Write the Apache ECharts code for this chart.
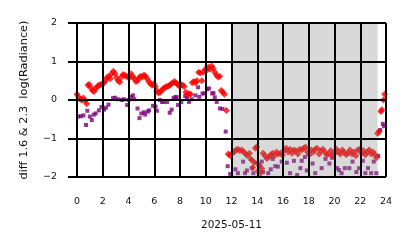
<!DOCTYPE html>
<html><head><meta charset="utf-8">
<script src="https://cdn.jsdelivr.net/npm/echarts@6/dist/echarts.min.js"></script>
<style>html,body{margin:0;padding:0;background:#fff}#c{width:414px;height:248px}</style>
</head><body><div id="c"></div>
<script>
const xTicks = [0,2,4,6,8,10,12,14,16,18,20,22,24];
const yTicks = [-2,-1,0,1,2];
const xName = '2025-05-11';
const yName = 'diff 1.6 & 2.3  log(Radiance)';
const shade = [12, 23.35];

const redHours = [0.0,0.12,0.25,0.38,0.5,0.62,0.75,0.85,0.95,1.08,1.2,1.32,1.45,1.58,1.7,1.82,1.95,2.08,2.2,2.32,2.45,2.58,2.7,2.82,2.95,3.08,3.2,3.32,3.45,3.58,3.7,3.82,3.95,4.08,4.2,4.32,4.45,4.58,4.7,4.82,4.95,5.08,5.2,5.32,5.45,5.58,5.7,5.82,5.95,6.08,6.2,6.32,6.45,6.58,6.7,6.82,6.95,7.08,7.2,7.32,7.45,7.58,7.7,7.82,7.95,8.08,8.2,8.32,8.45,8.58,8.7,8.82,8.95,9.08,9.2,9.32,9.45,9.58,9.7,9.82,9.95,10.08,10.2,10.32,10.45,10.58,10.7,10.82,10.95,11.08,11.2,11.32,11.45,11.6,
 11.75,11.9,12.05,12.2,12.35,12.5,12.65,12.8,12.95,13.1,13.25,13.4,13.55,13.65,13.75,13.85,13.95,14.05,14.15,14.25,14.35,14.45,14.6,14.75,14.9,15.05,15.2,15.35,15.5,15.65,15.8,15.95,16.1,16.25,16.4,16.55,16.7,16.85,17.0,17.15,17.3,17.45,17.6,17.75,17.9,18.05,18.2,18.35,18.5,18.65,18.8,18.95,19.1,19.25,19.4,19.55,19.7,19.85,20.0,20.15,20.3,20.45,20.6,20.75,20.9,21.05,21.2,21.35,21.5,21.65,21.8,21.95,22.1,22.25,22.4,22.55,22.7,22.85,23.0,23.15,23.25,23.35,23.45,23.6,23.68,23.8,23.9];
const redValues = [0.15,0.08,0.02,0.0,0.05,-0.02,-0.1,0.38,0.4,0.32,0.25,0.22,0.3,0.35,0.38,0.4,0.4,0.45,0.5,0.58,0.62,0.55,0.68,0.75,0.68,0.58,0.5,0.47,0.6,0.66,0.64,0.62,0.6,0.58,0.68,0.62,0.55,0.48,0.5,0.58,0.62,0.6,0.65,0.62,0.55,0.48,0.42,0.38,0.42,0.35,0.25,0.18,0.2,0.25,0.3,0.32,0.35,0.36,0.38,0.42,0.45,0.48,0.44,0.4,0.36,0.4,0.38,0.35,0.2,0.15,0.16,0.15,0.45,0.48,0.45,0.5,0.72,0.7,0.5,0.72,0.8,0.78,0.85,0.8,0.88,0.82,0.72,0.65,0.6,0.62,0.25,0.2,0.15,-0.27,
 -1.4,-1.45,-1.38,-1.35,-1.3,-1.28,-1.32,-1.3,-1.35,-1.4,-1.45,-1.38,-1.55,-1.75,-1.62,-1.25,-1.22,-1.85,-1.7,-1.9,-1.78,-1.38,-1.45,-1.52,-1.48,-1.42,-1.38,-1.45,-1.35,-1.4,-1.38,-1.43,-1.3,-1.25,-1.35,-1.28,-1.38,-1.3,-1.32,-1.4,-1.28,-1.3,-1.25,-1.22,-1.35,-1.42,-1.3,-1.35,-1.28,-1.25,-1.4,-1.32,-1.28,-1.35,-1.42,-1.4,-1.32,-1.45,-1.38,-1.28,-1.35,-1.4,-1.3,-1.35,-1.42,-1.38,-1.3,-1.4,-1.35,-1.45,-1.3,-1.28,-1.38,-1.32,-1.42,-1.35,-1.3,-1.4,-1.35,-1.42,-1.5,-0.87,-0.82,-0.3,-0.25,0.0,0.15];

const purpleHours = [0.1,0.3,0.5,0.7,0.8,1.0,1.15,1.3,1.45,1.7,1.9,2.1,2.25,2.45,2.8,2.95,3.2,3.5,3.65,3.9,4.0,4.2,4.35,4.45,4.7,4.85,5.0,5.2,5.3,5.5,5.6,5.9,6.1,6.2,6.45,6.6,6.75,7.0,7.2,7.35,7.5,7.65,7.75,7.85,8.1,8.4,8.55,8.7,8.9,9.2,9.4,9.5,9.75,9.9,10.1,10.25,10.5,10.6,10.7,10.85,11.1,11.3,11.55,11.7,
 11.9,12.3,12.5,12.9,13.05,13.2,13.5,13.6,13.7,13.9,14.15,14.35,14.45,14.85,15.05,15.2,15.4,15.6,15.9,16.3,16.55,16.85,17.1,17.35,17.45,17.7,17.85,18.3,18.5,19.0,19.3,19.6,19.8,20.2,20.35,20.55,20.8,21.15,21.4,21.7,21.9,22.2,22.4,22.6,22.85,23.05,23.25,23.4,23.55,23.75,23.85];
const purpleValues = [-0.43,-0.42,-0.4,-0.65,-0.28,-0.43,-0.52,-0.38,-0.35,-0.27,-0.18,-0.25,-0.2,-0.12,0.05,0.06,0.02,0.0,0.02,-0.13,0.0,0.08,0.12,0.02,-0.22,-0.47,-0.35,-0.32,-0.38,-0.3,-0.27,-0.15,-0.17,-0.28,0.0,-0.05,-0.05,-0.05,-0.33,-0.25,0.05,0.08,0.07,-0.13,-0.05,0.1,0.05,-0.05,0.02,0.12,0.33,0.08,0.17,0.17,0.28,0.3,0.17,0.18,0.07,-0.05,-0.22,-0.23,-0.82,-1.72,
 -1.92,-1.8,-1.9,-1.6,-1.9,-1.83,-1.53,-1.77,-1.9,-1.63,-1.7,-1.6,-1.87,-1.9,-1.8,-1.53,-1.72,-1.73,-1.6,-1.63,-1.9,-1.58,-1.95,-1.77,-1.58,-1.48,-1.83,-1.65,-1.9,-1.77,-1.53,-1.65,-1.5,-1.77,-1.82,-1.9,-1.77,-1.77,-1.6,-1.87,-1.77,-1.58,-1.9,-1.77,-1.9,-1.6,-1.9,-1.45,-0.78,-0.62,-0.68];

const redData = redHours.map((h,i)=>[h, redValues[i]]);
const purpleData = purpleHours.map((h,i)=>[h, purpleValues[i]]);
const font = 'DejaVu Sans';
const fmtNum = v => (v < 0 ? '\u2212' + Math.abs(v) : String(v));

const chart = echarts.init(document.getElementById('c'), null, {renderer:'canvas'});
chart.setOption({
  animation: false,
  backgroundColor: '#ffffff',
  grid: {left: 77, right: 28, top: 23, bottom: 71},
  xAxis: {
    type: 'value', min: xTicks[0], max: xTicks[xTicks.length-1], interval: 2, z: 10,
    name: xName, nameLocation: 'middle', nameGap: 43,
    nameTextStyle: {fontFamily: font, fontSize: 10.5, color: '#111'},
    axisLine: {show: false},
    axisTick: {show: true, length: 8, lineStyle: {color: '#000', width: 2}},
    axisLabel: {fontFamily: font, fontSize: 9.5, color: '#111', margin: 20},
    splitLine: {show: true, lineStyle: {color: '#000', width: 2}}
  },
  yAxis: {
    type: 'value', min: yTicks[0], max: yTicks[yTicks.length-1], interval: 1, z: 10,
    name: yName, nameLocation: 'middle', nameGap: 47,
    nameTextStyle: {fontFamily: font, fontSize: 11.3, color: '#111'},
    axisLine: {show: false},
    axisTick: {show: true, length: 9, lineStyle: {color: '#000', width: 2}},
    axisLabel: {fontFamily: font, fontSize: 9.5, color: '#111', margin: 20, formatter: fmtNum},
    splitLine: {show: true, lineStyle: {color: '#000', width: 2}}
  },
  series: [
    {type: 'scatter', data: purpleData, symbol: 'rect', symbolSize: 4,
     itemStyle: {color: '#800080'}, z: 2},
    {type: 'scatter', data: redData, symbol: 'diamond', symbolSize: 7,
     itemStyle: {color: '#ff0000'}, z: 3},
    {type: 'custom', z: 5, silent: true, data: [shade],
     renderItem: function(params, api){
       const p0 = api.coord([api.value(0), yTicks[yTicks.length-1]]);
       const p1 = api.coord([api.value(1), yTicks[0]]);
       return {type: 'rect', shape: {x: p0[0], y: p0[1], width: p1[0]-p0[0], height: p1[1]-p0[1]},
               style: {fill: 'rgba(128,128,128,0.3)'}};
     }}
  ]
});
</script></body></html>
